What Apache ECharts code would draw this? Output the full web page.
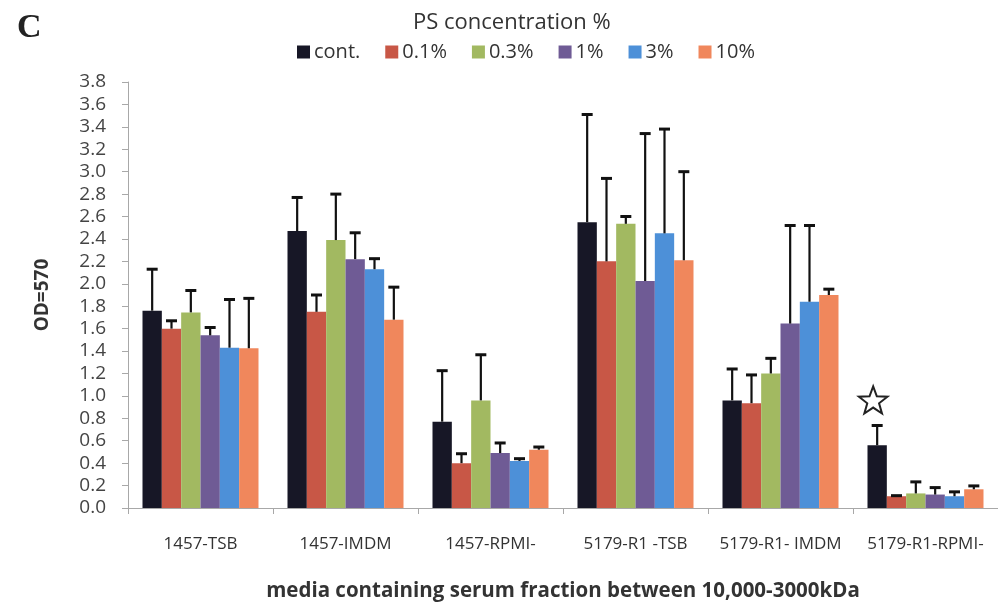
<!DOCTYPE html>
<html>
<head>
<meta charset="utf-8">
<script src="https://cdn.jsdelivr.net/npm/echarts@6/dist/echarts.min.js"></script>
<style>html,body{margin:0;padding:0;background:#fff}#c{width:998px;height:607px}</style>
</head>
<body>
<div id="c"></div>
<script>
const categories = ['1457-TSB', '1457-IMDM', '1457-RPMI-', '5179-R1 -TSB', '5179-R1- IMDM', '5179-R1-RPMI-'];
const seriesNames = ['cont.', '0.1%', '0.3%', '1%', '3%', '10%'];
const yTicks = { min: 0, max: 3.8, interval: 0.2 };

// mean OD values per concentration
const contVals = [1.76, 2.47, 0.77, 2.55, 0.96, 0.56];
const p01Vals  = [1.60, 1.75, 0.40, 2.20, 0.935, 0.105];
const p03Vals  = [1.745, 2.39, 0.96, 2.535, 1.20, 0.13];
const p1Vals   = [1.54, 2.22, 0.49, 2.025, 1.645, 0.12];
const p3Vals   = [1.43, 2.13, 0.42, 2.45, 1.84, 0.105];
const p10Vals  = [1.425, 1.68, 0.52, 2.21, 1.90, 0.167];

// upper error (SD) per concentration
const contErr = [0.37, 0.30, 0.455, 0.96, 0.28, 0.176];
const p01Err  = [0.07, 0.15, 0.084, 0.74, 0.252, 0.005];
const p03Err  = [0.195, 0.41, 0.407, 0.065, 0.135, 0.103];
const p1Err   = [0.07, 0.235, 0.09, 1.315, 0.875, 0.062];
const p3Err   = [0.43, 0.094, 0.02, 0.93, 0.68, 0.039];
const p10Err  = [0.445, 0.29, 0.024, 0.79, 0.052, 0.03];

// significance star: [category index, y value, series index]
const starMarks = [[5, 0.96, 0]];

const allVals = [contVals, p01Vals, p03Vals, p1Vals, p3Vals, p10Vals];
const allErr = [contErr, p01Err, p03Err, p1Err, p3Err, p10Err];
const colors = ['#171726', '#c85746', '#a2b961', '#6f5b95', '#4d90d8', '#f0875c'];

const FONT = '"Open Sans", sans-serif';
const GAP = 0.2;
const N = seriesNames.length;

function barX(api, ci, k) {
  const p = api.coord([ci, 0]);
  const catW = api.size([1, 0])[0];
  const bw = catW * (1 - GAP) / N;
  return p[0] + (k - (N - 1) / 2) * bw;
}

function errRender(k) {
  return function (params, api) {
    const ci = api.value(0), m = api.value(1), t = api.value(2);
    const x = barX(api, ci, k);
    const y0 = api.coord([ci, m])[1];
    const y1 = api.coord([ci, t])[1];
    return {
      type: 'group',
      children: [
        { type: 'line', shape: { x1: x, y1: y0, x2: x, y2: y1 }, style: { stroke: '#111', lineWidth: 2.2 } },
        { type: 'line', shape: { x1: x - 5.5, y1: y1, x2: x + 5.5, y2: y1 }, style: { stroke: '#111', lineWidth: 3 } }
      ]
    };
  };
}

function starRender(params, api) {
  const ci = api.value(0), v = api.value(1), k = api.value(2);
  const cx = barX(api, ci, k) - 4;
  const cy = api.coord([ci, v])[1];
  const pts = [];
  const R = 15, r = 6.2;
  for (let i = 0; i < 10; i++) {
    const a = -Math.PI / 2 + i * Math.PI / 5;
    const rr = i % 2 === 0 ? R : r;
    pts.push([cx + rr * Math.cos(a), cy + rr * Math.sin(a) + 1]);
  }
  return { type: 'polygon', shape: { points: pts }, style: { fill: '#fff', stroke: '#222', lineWidth: 2 } };
}

const series = [];
seriesNames.forEach((name, k) => {
  series.push({
    name: name, type: 'bar', data: allVals[k],
    barGap: '0%', barCategoryGap: (GAP * 100) + '%',
    itemStyle: { color: colors[k] }
  });
});
seriesNames.forEach((name, k) => {
  series.push({
    type: 'custom', name: 'err' + k,
    data: allVals[k].map((v, i) => [i, v, v + allErr[k][i]]),
    encode: { x: 0, y: [1, 2] },
    renderItem: errRender(k), z: 5, silent: true
  });
});
series.push({
  type: 'custom', name: 'star', data: starMarks,
  encode: { x: 0, y: 1 }, renderItem: starRender, z: 6, silent: true
});

const chart = echarts.init(document.getElementById('c'), null, { renderer: 'canvas' });
chart.setOption({
  animation: false,
  backgroundColor: '#fff',
  title: [
    { text: 'C', left: 12, top: 6, textStyle: { fontFamily: '"Liberation Serif", serif', fontWeight: 'bold', fontSize: 34, color: '#222' } },
    { text: 'PS concentration %', left: 408, top: 7, textStyle: { fontFamily: FONT, fontWeight: 'normal', fontSize: 22, color: '#333' } }
  ],
  legend: {
    data: seriesNames, left: 292, top: 37, icon: 'rect', itemWidth: 13, itemHeight: 13, itemGap: 25,
    selectedMode: false,
    textStyle: { fontFamily: FONT, fontSize: 20, color: '#333', padding: [0, 0, 0, -1] }
  },
  grid: { left: 128, top: 82, width: 876, height: 427.5 },
  xAxis: {
    type: 'category', data: categories,
    axisLine: { lineStyle: { color: '#a8a8a8', width: 1 } },
    axisTick: { show: true, length: 6, interval: 0, lineStyle: { color: '#a8a8a8' } },
    axisLabel: { fontFamily: FONT, fontSize: 17, color: '#333', margin: 28, interval: 0, hideOverlap: false },
    name: 'media containing serum fraction between 10,000-3000kDa',
    nameLocation: 'middle', nameGap: 73,
    nameTextStyle: { fontFamily: FONT, fontWeight: 'bold', fontSize: 20.5, color: '#333' }
  },
  yAxis: {
    type: 'value', min: yTicks.min, max: yTicks.max, interval: yTicks.interval,
    splitLine: { show: false },
    axisLine: { show: true, lineStyle: { color: '#a8a8a8', width: 1 } },
    axisTick: { show: true, length: 6, lineStyle: { color: '#a8a8a8' } },
    axisLabel: { fontFamily: FONT, fontSize: 19, color: '#444', margin: 22, formatter: v => v.toFixed(1) },
    name: 'OD=570', nameLocation: 'middle', nameGap: 76,
    nameTextStyle: { fontFamily: FONT, fontWeight: 'bold', fontSize: 19, color: '#333' }
  },
  series: series
});
</script>
</body>
</html>
